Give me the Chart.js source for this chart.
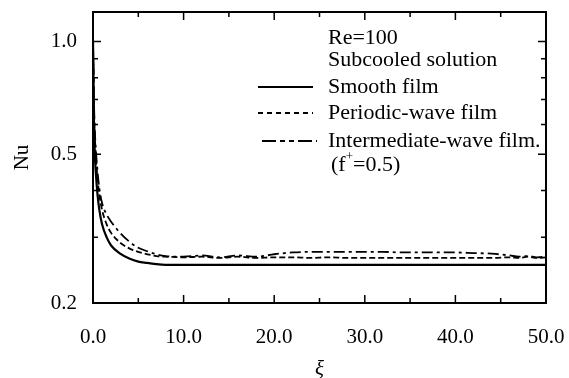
<!DOCTYPE html>
<html>
<head>
<meta charset="utf-8">
<script src="https://cdn.jsdelivr.net/npm/chart.js@4/dist/chart.umd.min.js"></script>
<style>
  html, body { margin: 0; padding: 0; background: #fff; }
  #wrap { width: 569px; height: 378px; position: relative; }
</style>
</head>
<body>
<div id="wrap"><canvas id="chart"></canvas></div>
<script>
// --- dati ---
const xi = [0, 0.05, 0.1, 0.2, 0.3, 0.5, 0.7, 1.0, 1.5, 2, 3, 4, 5, 6, 7, 8, 10, 12, 14, 16, 18, 20,
            22, 24, 26, 28, 30, 32, 34, 36, 38, 40, 42, 44, 46, 47, 48, 49, 50];
const nuSmooth = [1.0, 0.8, 0.62, 0.5, 0.45, 0.39, 0.355, 0.325, 0.3, 0.285, 0.271, 0.263, 0.258,
                  0.256, 0.254, 0.253, 0.253, 0.253, 0.253, 0.253, 0.253, 0.253, 0.253, 0.253,
                  0.253, 0.253, 0.253, 0.253, 0.253, 0.253, 0.253, 0.253, 0.253, 0.253, 0.253,
                  0.253, 0.253, 0.253, 0.253];
const nuPeriodic = [1.0, 0.84, 0.68, 0.56, 0.5, 0.43, 0.39, 0.355, 0.325, 0.308, 0.29, 0.28, 0.274,
                    0.27, 0.267, 0.266, 0.265, 0.266, 0.264, 0.266, 0.264, 0.265, 0.265, 0.264,
                    0.265, 0.264, 0.264, 0.264, 0.264, 0.264, 0.264, 0.264, 0.264, 0.264, 0.265,
                    0.264, 0.266, 0.264, 0.265];
const nuInterm = [1.0, 0.85, 0.7, 0.58, 0.52, 0.45, 0.405, 0.37, 0.345, 0.33, 0.308, 0.292, 0.281,
                  0.275, 0.27, 0.267, 0.266, 0.268, 0.265, 0.268, 0.266, 0.27, 0.273, 0.274, 0.274,
                  0.274, 0.274, 0.274, 0.273, 0.273, 0.273, 0.273, 0.272, 0.271, 0.268, 0.266,
                  0.267, 0.265, 0.266];
const serie = ['Smooth film', 'Periodic-wave film', 'Intermediate-wave film.'];
const yTicks = [0.2, 0.5, 1.0];
const yMinor = [0.3, 0.4, 0.5, 0.6, 0.7, 0.8, 0.9, 1.0];
const xTicks = [0, 10, 20, 30, 40, 50];
const xMinor = [5, 15, 25, 35, 45];

const FONT = "'Liberation Serif', 'Times New Roman', serif";
const toPoints = vals => xi.map((x, i) => ({ x: x, y: vals[i] }));

// --- plugin: cornice, tacche interne, legenda ---
const cornice = {
  id: 'cornice',
  afterDraw(chart) {
    const ctx = chart.ctx;
    const a = chart.chartArea;
    const sx = chart.scales.x, sy = chart.scales.y;
    ctx.save();
    ctx.strokeStyle = '#000';
    ctx.lineWidth = 2;
    ctx.strokeRect(a.left, a.top, a.right - a.left, a.bottom - a.top);

    ctx.lineWidth = 1.5;
    ctx.beginPath();
    xTicks.concat(xMinor).forEach(v => {
      const px = sx.getPixelForValue(v);
      const len = xTicks.includes(v) ? 8 : 5;
      ctx.moveTo(px, a.bottom); ctx.lineTo(px, a.bottom - len);
      ctx.moveTo(px, a.top); ctx.lineTo(px, a.top + len);
    });
    yMinor.forEach(v => {
      const py = sy.getPixelForValue(v);
      const len = yTicks.includes(v) ? 8 : 5;
      ctx.moveTo(a.left, py); ctx.lineTo(a.left + len, py);
      ctx.moveTo(a.right, py); ctx.lineTo(a.right - len, py);
    });
    ctx.stroke();

    // legenda
    ctx.fillStyle = '#000';
    ctx.font = '22px ' + FONT;
    ctx.textBaseline = 'middle';
    ctx.textAlign = 'left';
    const tx = 328;
    ctx.fillText('Re=100', tx, 38);
    ctx.fillText('Subcooled solution', tx, 60);
    const righe = [87, 113, 141];
    chart.data.datasets.forEach((ds, i) => {
      const y = righe[i];
      ctx.save();
      ctx.lineWidth = ds.borderWidth;
      ctx.setLineDash(ds.legendDash || []);
      ctx.beginPath();
      ctx.moveTo(258 + (i === 2 ? 4 : 0), y); ctx.lineTo(313 + (i === 2 ? 4 : 0), y);
      ctx.stroke();
      ctx.restore();
      ctx.fillText(ds.label, tx, y);
    });
    const fy = 165;
    ctx.fillText('(f', tx + 3, fy);
    const w = ctx.measureText('(f').width;
    ctx.font = '13px ' + FONT;
    ctx.fillText('+', tx + 3 + w, fy - 8);
    const w2 = ctx.measureText('+').width;
    ctx.font = '22px ' + FONT;
    ctx.fillText('=0.5)', tx + 3 + w + w2, fy);
    ctx.restore();
  }
};

new Chart(document.getElementById('chart'), {
  type: 'line',
  data: {
    datasets: [
      { label: serie[0], data: toPoints(nuSmooth), borderColor: '#000', borderWidth: 2.2,
        borderDash: [], legendDash: [] },
      { label: serie[1], data: toPoints(nuPeriodic), borderColor: '#000', borderWidth: 1.8,
        borderDash: [6, 3], legendDash: [5, 4] },
      { label: serie[2], data: toPoints(nuInterm), borderColor: '#000', borderWidth: 1.8,
        borderDash: [11, 4, 3, 4], legendDash: [14, 4, 5, 4, 5, 4, 14, 4, 2] }
    ]
  },
  options: {
    responsive: true,
    maintainAspectRatio: false,
    animation: false,
    layout: { padding: { top: 12, right: 23, left: 0, bottom: 0 } },
    elements: { point: { radius: 0 }, line: { cubicInterpolationMode: 'monotone', fill: false } },
    plugins: { legend: { display: false }, tooltip: { enabled: false } },
    scales: {
      x: {
        type: 'linear', min: 0, max: 50,
        afterBuildTicks: s => { s.ticks = xTicks.map(v => ({ value: v })); },
        afterFit: s => { s.height = 75; s.paddingLeft = 0; s.paddingRight = 0; },
        grid: { display: false, drawTicks: false },
        border: { display: false },
        ticks: { color: '#000', padding: 22, font: { family: FONT, size: 21 }, maxRotation: 0,
                 callback: v => v.toFixed(1) },
        title: { display: true, text: 'ξ', color: '#000', padding: 0,
                 font: { family: FONT, size: 21, style: 'italic', lineHeight: 0.8 } }
      },
      y: {
        type: 'logarithmic', min: 0.2, max: 1.2,
        afterBuildTicks: s => { s.ticks = yTicks.map(v => ({ value: v })); },
        afterFit: s => { s.width = 93; s.paddingTop = 0; s.paddingBottom = 0; },
        grid: { display: false, drawTicks: false },
        border: { display: false },
        ticks: { color: '#000', padding: 16, font: { family: FONT, size: 21 },
                 callback: v => v.toFixed(1) },
        title: { display: true, text: 'Nu', color: '#000', padding: 10,
                 font: { family: FONT, size: 21 } }
      }
    }
  },
  plugins: [cornice]
});
</script>
</body>
</html>
